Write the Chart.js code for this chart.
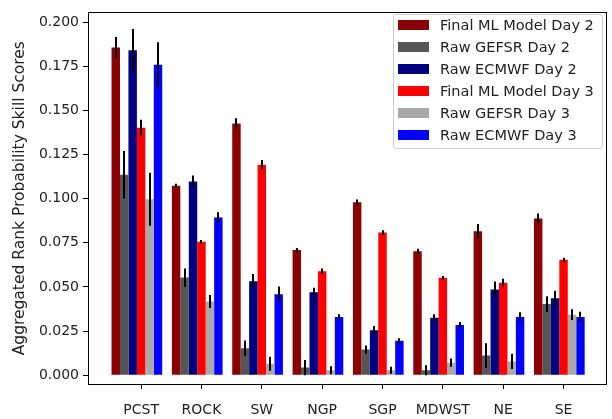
<!DOCTYPE html>
<html>
<head>
<meta charset="utf-8">
<script src="https://cdn.jsdelivr.net/npm/chart.js@4/dist/chart.umd.min.js"></script>
<style>
  html, body { margin: 0; padding: 0; background: #fff; }
</style>
</head>
<body>
<canvas id="chart" width="612" height="419"></canvas>
<script>
const regions = ["PCST", "ROCK", "SW", "NGP", "SGP", "MDWST", "NE", "SE"];
const seriesNames = ["Final ML Model Day 2", "Raw GEFSR Day 2", "Raw ECMWF Day 2",
                     "Final ML Model Day 3", "Raw GEFSR Day 3", "Raw ECMWF Day 3"];
const seriesColors = ["#8b0000", "#555555", "#000080", "#ff0000", "#a9a9a9", "#0000ff"];

// mean scores per region
const finalMlDay2 = [0.1857, 0.1073, 0.1426, 0.0709, 0.0980, 0.0702, 0.0815, 0.0888];
const gefsrDay2   = [0.1136, 0.0553, 0.0152, 0.0043, 0.0145, 0.0028, 0.0111, 0.0403];
const ecmwfDay2   = [0.1842, 0.1097, 0.0533, 0.0470, 0.0255, 0.0325, 0.0486, 0.0436];
const finalMlDay3 = [0.1402, 0.0756, 0.1192, 0.0589, 0.0808, 0.0552, 0.0524, 0.0654];
const gefsrDay3   = [0.0997, 0.0418, 0.0065, 0.0028, 0.0028, 0.0071, 0.0078, 0.0343];
const ecmwfDay3   = [0.1759, 0.0893, 0.0459, 0.0330, 0.0195, 0.0284, 0.0330, 0.0330];

// error bar half widths
const finalMlDay2Err = [0.0060, 0.0012, 0.0030, 0.0012, 0.0015, 0.0014, 0.0042, 0.0028];
const gefsrDay2Err   = [0.0135, 0.0052, 0.0045, 0.0043, 0.0023, 0.0028, 0.0070, 0.0045];
const ecmwfDay2Err   = [0.0120, 0.0035, 0.0040, 0.0025, 0.0024, 0.0020, 0.0045, 0.0043];
const finalMlDay3Err = [0.0045, 0.0010, 0.0028, 0.0015, 0.0014, 0.0010, 0.0022, 0.0012];
const gefsrDay3Err   = [0.0150, 0.0037, 0.0040, 0.0023, 0.0020, 0.0023, 0.0043, 0.0030];
const ecmwfDay3Err   = [0.0128, 0.0030, 0.0043, 0.0015, 0.0014, 0.0017, 0.0026, 0.0030];

const yTicks = [0, 0.025, 0.05, 0.075, 0.1, 0.125, 0.15, 0.175, 0.2];

const seriesValues = [finalMlDay2, gefsrDay2, ecmwfDay2, finalMlDay3, gefsrDay3, ecmwfDay3];
const seriesErrors = [finalMlDay2Err, gefsrDay2Err, ecmwfDay2Err, finalMlDay3Err, gefsrDay3Err, ecmwfDay3Err];

const FONT = "'DejaVu Sans', sans-serif";

const datasets = seriesNames.map((name, i) => ({
  label: name,
  data: seriesValues[i].map((v, j) => ({ x: j, y: v })),
  backgroundColor: seriesColors[i],
  borderWidth: 0,
  errors: seriesErrors[i],
}));
// empty slot so the tick sits on the 4th bar like matplotlib's offsets
datasets.push({
  label: "_spacer",
  data: regions.map((r, j) => ({ x: j, y: null })),
  backgroundColor: "rgba(0,0,0,0)",
});

const errorBars = {
  id: "errorBars",
  afterDatasetsDraw(chart) {
    const ctx = chart.ctx;
    const yScale = chart.scales.y;
    ctx.save();
    ctx.strokeStyle = "#000";
    ctx.lineWidth = 2;
    chart.data.datasets.forEach((ds, i) => {
      if (!ds.errors) return;
      const meta = chart.getDatasetMeta(i);
      meta.data.forEach((bar, j) => {
        const v = ds.data[j].y, e = ds.errors[j];
        const top = yScale.getPixelForValue(v + e);
        const bot = yScale.getPixelForValue(Math.max(v - e, yScale.min));
        ctx.beginPath();
        ctx.moveTo(Math.round(bar.x), top);
        ctx.lineTo(Math.round(bar.x), bot);
        ctx.stroke();
      });
    });
    ctx.restore();
  }
};

const frameAndLegend = {
  id: "frameAndLegend",
  afterDraw(chart) {
    const ctx = chart.ctx;
    const a = chart.chartArea;
    ctx.save();
    ctx.strokeStyle = "#000";
    ctx.lineWidth = 1;
    ctx.strokeRect(Math.round(a.left) + 0.5, Math.round(a.top) + 0.5,
                   Math.round(a.right - a.left) - 1, Math.round(a.bottom - a.top));

    // legend box, upper right
    const bx = 393, by = 14, bw = 209, bh = 134;
    ctx.fillStyle = "rgba(255,255,255,0.8)";
    ctx.strokeStyle = "#cccccc";
    ctx.beginPath();
    ctx.roundRect(bx + 0.5, by + 0.5, bw, bh, 3);
    ctx.fill();
    ctx.stroke();
    ctx.font = "14.5px " + FONT;
    ctx.textBaseline = "middle";
    seriesNames.forEach((name, i) => {
      const cy = by + 11 + i * 22;
      ctx.fillStyle = seriesColors[i];
      ctx.fillRect(398, cy - 5, 31, 10);
      ctx.fillStyle = "#222";
      ctx.fillText(name, 440, cy + 1);
    });
    ctx.restore();
  }
};

new Chart(document.getElementById("chart"), {
  type: "bar",
  data: { datasets: datasets },
  plugins: [errorBars, frameAndLegend],
  options: {
    responsive: false,
    animation: false,
    layout: { padding: { top: 6, right: 5, left: 0, bottom: 0 } },
    datasets: { bar: { categoryPercentage: 0.98, barPercentage: 1.0 } },
    plugins: { legend: { display: false }, tooltip: { enabled: false } },
    scales: {
      x: {
        type: "linear",
        min: -0.88,
        max: 7.72,
        offset: false,
        grid: { offset: false, drawOnChartArea: false, tickLength: 5, color: "#000" },
        border: { display: false },
        ticks: {
          stepSize: 1,
          includeBounds: false,
          autoSkip: false,
          maxRotation: 0,
          padding: 13,
          color: "#222",
          font: { family: FONT, size: 14 },
          callback: (v) => Number.isInteger(v) ? regions[v] : "",
        },
        afterFit(scale) { scale.height = 35; },
      },
      y: {
        min: -0.005,
        max: 0.2056,
        grid: { drawOnChartArea: false, tickLength: 5, color: "#000" },
        border: { display: false },
        afterBuildTicks(scale) { scale.ticks = yTicks.map(v => ({ value: v })); },
        ticks: {
          padding: 4,
          color: "#222",
          font: { family: FONT, size: 14 },
          callback: (v) => v.toFixed(3),
        },
        title: {
          display: true,
          text: "Aggregated Rank Probability Skill Scores",
          color: "#222",
          font: { family: FONT, size: 15.5 },
          padding: { top: 11, bottom: 0 },
        },
        afterFit(scale) { scale.width = 88; },
      },
    },
  },
});
</script>
</body>
</html>
